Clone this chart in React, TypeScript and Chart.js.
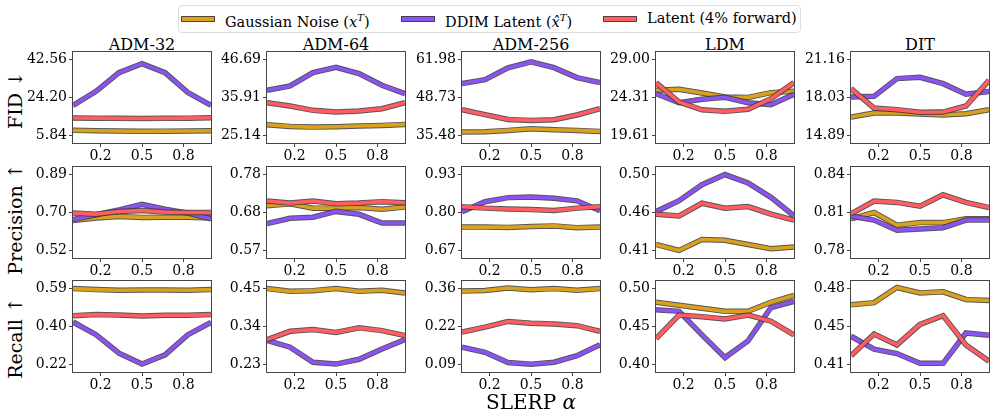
import React, { useEffect, useRef } from "react";
import { Chart, registerables } from "chart.js";
Chart.register(...registerables);

const FONT = "'DejaVu Serif', serif";

const alphas = [0, 0.167, 0.333, 0.5, 0.667, 0.833, 1];
const xTickValues = [0.2, 0.5, 0.8];
const models = ["ADM-32", "ADM-64", "ADM-256", "LDM", "DIT"];
const metricLabels = ["FID ↓", "Precision ↑", "Recall ↑"];

// FID
const fidNoise = [
  [8.3, 8.1, 8.0, 7.8, 7.9, 8.0, 8.1],
  [28.18, 27.7, 27.51, 27.61, 27.8, 27.99, 28.27],
  [36.67, 36.78, 37.23, 37.83, 37.48, 37.23, 36.88],
  [25.2, 25.32, 24.86, 24.37, 24.32, 24.91, 25.07],
  [16.41, 16.74, 16.74, 16.66, 16.58, 16.68, 17.02],
];
const fidDdim = [
  [20.4, 27.2, 36.2, 40.6, 36.2, 26.6, 20.4],
  [37.96, 39.19, 42.99, 44.51, 42.7, 39.38, 37.01],
  [53.58, 54.98, 59.07, 61.17, 59.17, 55.68, 53.93],
  [24.78, 23.66, 24.08, 24.32, 23.66, 23.41, 24.7],
  [18.07, 18.12, 19.59, 19.7, 19.17, 18.29, 18.53],
];
const fidLatent = [
  [14.3, 14.2, 14.1, 14.0, 14.1, 14.2, 14.4],
  [34.44, 33.5, 32.26, 31.79, 32.08, 32.74, 34.44],
  [44.47, 42.73, 41.08, 40.73, 40.97, 42.62, 44.83],
  [26.15, 23.75, 22.79, 22.59, 22.84, 24.16, 26.15],
  [18.76, 17.15, 17.02, 16.8, 16.82, 17.32, 19.45],
];
const fidTicks = [
  ["5.84", "24.20", "42.56"],
  ["25.14", "35.91", "46.69"],
  ["35.48", "48.73", "61.98"],
  ["19.61", "24.31", "29.00"],
  ["14.89", "18.03", "21.16"],
];

// Precision
const precNoise = [
  [0.666, 0.678, 0.686, 0.681, 0.682, 0.682, 0.678],
  [0.694, 0.699, 0.687, 0.687, 0.689, 0.684, 0.69],
  [0.75, 0.75, 0.749, 0.752, 0.754, 0.748, 0.75],
  [0.417, 0.41, 0.423, 0.422, 0.417, 0.412, 0.414],
  [0.805, 0.81, 0.8, 0.802, 0.802, 0.805, 0.805],
];
const precDdim = [
  [0.67, 0.694, 0.718, 0.745, 0.721, 0.702, 0.674],
  [0.644, 0.659, 0.662, 0.678, 0.67, 0.646, 0.646],
  [0.803, 0.837, 0.851, 0.853, 0.849, 0.84, 0.806],
  [0.456, 0.469, 0.488, 0.5, 0.49, 0.473, 0.451],
  [0.807, 0.804, 0.796, 0.797, 0.798, 0.804, 0.804],
];
const precLatent = [
  [0.702, 0.697, 0.71, 0.715, 0.707, 0.705, 0.705],
  [0.707, 0.701, 0.707, 0.699, 0.701, 0.705, 0.702],
  [0.82, 0.815, 0.812, 0.81, 0.807, 0.815, 0.82],
  [0.453, 0.451, 0.466, 0.46, 0.462, 0.453, 0.446],
  [0.809, 0.819, 0.818, 0.815, 0.824, 0.818, 0.814],
];
const precTicks = [
  ["0.52", "0.70", "0.89"],
  ["0.57", "0.68", "0.78"],
  ["0.67", "0.80", "0.93"],
  ["0.41", "0.46", "0.50"],
  ["0.78", "0.81", "0.84"],
];

// Recall
const recNoise = [
  [0.59, 0.585, 0.582, 0.583, 0.583, 0.582, 0.585],
  [0.45, 0.442, 0.444, 0.45, 0.442, 0.445, 0.437],
  [0.351, 0.353, 0.362, 0.356, 0.36, 0.354, 0.36],
  [0.482, 0.478, 0.474, 0.47, 0.47, 0.482, 0.491],
  [0.465, 0.467, 0.481, 0.476, 0.477, 0.47, 0.469],
];
const recDdim = [
  [0.427, 0.365, 0.275, 0.222, 0.267, 0.365, 0.425],
  [0.3, 0.28, 0.236, 0.231, 0.245, 0.275, 0.302],
  [0.151, 0.133, 0.097, 0.091, 0.098, 0.121, 0.16],
  [0.472, 0.47, 0.439, 0.409, 0.431, 0.475, 0.483],
  [0.436, 0.424, 0.42, 0.411, 0.411, 0.439, 0.437],
];
const recLatent = [
  [0.458, 0.463, 0.461, 0.456, 0.46, 0.46, 0.463],
  [0.302, 0.326, 0.331, 0.323, 0.336, 0.328, 0.314],
  [0.205, 0.223, 0.243, 0.237, 0.234, 0.228, 0.208],
  [0.434, 0.465, 0.463, 0.46, 0.465, 0.457, 0.439],
  [0.418, 0.438, 0.428, 0.447, 0.455, 0.428, 0.413],
];
const recTicks = [
  ["0.22", "0.40", "0.59"],
  ["0.23", "0.34", "0.45"],
  ["0.09", "0.22", "0.36"],
  ["0.40", "0.45", "0.50"],
  ["0.41", "0.45", "0.48"],
];

const rowsNoise = [fidNoise, precNoise, recNoise];
const rowsDdim = [fidDdim, precDdim, recDdim];
const rowsLatent = [fidLatent, precLatent, recLatent];
const rowsTicks = [fidTicks, precTicks, recTicks];

const COLORS = { noise: "#DBA11B", ddim: "#8B52F4", latent: "#FF5D62" };
const OUTLINE = "rgba(55,55,55,0.85)";

const COL_LEFTS = [73, 267, 462, 656, 851];
const ROW_TOPS = [52, 167, 281];
const PLOT_W = 138;
const PLOT_H = 91;
const PAD_L = 62;
const PAD_T = 14;
const PAD_R = 10;
const PAD_B = 26;

const framePlugin = {
  id: "frame",
  afterDatasetsDraw(chart: any) {
    const { ctx, chartArea: a } = chart;
    ctx.save();
    ctx.strokeStyle = "#444";
    ctx.lineWidth = 1;
    ctx.strokeRect(Math.round(a.left) - 0.5, Math.round(a.top) - 0.5, Math.round(a.right - a.left) + 1, Math.round(a.bottom - a.top) + 1);
    ctx.restore();
  },
};

function Panel({ row, col }: { row: number; col: number }) {
  const ref = useRef<HTMLCanvasElement>(null);
  useEffect(() => {
    const labels = rowsTicks[row][col];
    const lo = parseFloat(labels[0]);
    const hi = parseFloat(labels[2]);
    const span = hi - lo;
    const toPts = (vals: number[]) => alphas.map((a, i) => ({ x: a, y: vals[i] }));
    const series = [
      { vals: rowsNoise[row][col], color: COLORS.noise },
      { vals: rowsDdim[row][col], color: COLORS.ddim },
      { vals: rowsLatent[row][col], color: COLORS.latent },
    ];
    const datasets: any[] = [];
    series.forEach((s, k) => {
      datasets.push({
        data: toPts(s.vals),
        borderColor: OUTLINE,
        borderWidth: 5.5,
        pointRadius: 0,
        tension: 0,
        clip: 0,
        order: 10 - 2 * k,
      });
      datasets.push({
        data: toPts(s.vals),
        borderColor: s.color,
        borderWidth: 3.6,
        pointRadius: 0,
        tension: 0,
        clip: 0,
        order: 9 - 2 * k,
      });
    });
    const chart = new Chart(ref.current as HTMLCanvasElement, {
      type: "line",
      data: { datasets },
      plugins: [framePlugin],
      options: {
        responsive: false,
        maintainAspectRatio: false,
        animation: false,
        events: [],
        layout: { padding: { left: 0, top: PAD_T, right: PAD_R, bottom: 0 } },
        plugins: { legend: { display: false }, tooltip: { enabled: false } },
        scales: {
          x: {
            type: "linear",
            min: 0,
            max: 1,
            bounds: "data",
            afterBuildTicks: (ax: any) => {
              ax.ticks = xTickValues.map((v) => ({ value: v }));
            },
            afterFit: (ax: any) => {
              ax.height = PAD_B;
            },
            ticks: {
              autoSkip: false,
              maxRotation: 0,
              padding: 1,
              color: "#000",
              font: { family: FONT, size: 14 },
              callback: (v: any) => Number(v).toFixed(1),
            },
            grid: { drawOnChartArea: false, tickLength: 4, color: "#444" },
            border: { display: false },
          },
          y: {
            type: "linear",
            min: lo - 0.1 * span,
            max: hi + 0.1 * span,
            bounds: "data",
            afterBuildTicks: (ax: any) => {
              ax.ticks = [lo, (lo + hi) / 2, hi].map((v) => ({ value: v }));
            },
            afterFit: (ax: any) => {
              ax.width = PAD_L;
            },
            ticks: {
              autoSkip: false,
              padding: 2,
              color: "#000",
              font: { family: FONT, size: 14 },
              callback: (_v: any, i: number) => labels[i],
            },
            grid: { drawOnChartArea: false, tickLength: 4, color: "#444" },
            border: { display: false },
          },
        },
      } as any,
    });
    return () => chart.destroy();
  }, [row, col]);
  const w = PAD_L + PLOT_W + PAD_R;
  const h = PAD_T + PLOT_H + PAD_B;
  return (
    <canvas
      ref={ref}
      width={w}
      height={h}
      style={{ position: "absolute", left: COL_LEFTS[col] - PAD_L, top: ROW_TOPS[row] - PAD_T, width: w, height: h }}
    />
  );
}

function LegendLine({ left, color }: { left: number; color: string }) {
  return (
    <div
      style={{
        position: "absolute",
        left,
        top: 16,
        width: 32,
        height: 3.6,
        background: color,
        border: `1px solid ${OUTLINE}`,
        boxSizing: "content-box",
      }}
    />
  );
}

const legendText: React.CSSProperties = {
  position: "absolute",
  top: 11,
  fontFamily: FONT,
  fontSize: 14.5,
  lineHeight: "14px",
  whiteSpace: "nowrap",
  color: "#000",
};

export default function App() {
  const rowLabelCenters = [100, 219, 338];
  return (
    <div style={{ position: "absolute", left: 0, top: 0, width: 996, height: 419, background: "#fff", overflow: "hidden" }}>
      {/* legend */}
      <div
        style={{
          position: "absolute",
          left: 178,
          top: 5,
          width: 623,
          height: 28,
          border: "1px solid #ddd",
          borderRadius: 4,
          boxSizing: "border-box",
        }}
      />
      <LegendLine left={181} color={COLORS.noise} />
      <div style={{ ...legendText, left: 225 }}>
        Gaussian Noise (<i>x</i>
        <sup style={{ fontSize: 10, fontStyle: "italic", verticalAlign: 6 }}>T</sup>)
      </div>
      <LegendLine left={401} color={COLORS.ddim} />
      <div style={{ ...legendText, left: 445 }}>
        DDIM Latent (<i>x&#770;</i>
        <sup style={{ fontSize: 10, fontStyle: "italic", verticalAlign: 6 }}>T</sup>)
      </div>
      <LegendLine left={603} color={COLORS.latent} />
      <div style={{ ...legendText, left: 647 }}>Latent (4% forward)</div>

      {/* titles */}
      {models.map((m, c) => (
        <div
          key={m}
          style={{
            position: "absolute",
            left: COL_LEFTS[c] + PLOT_W / 2,
            top: 36.5,
            transform: "translateX(-50%)",
            fontFamily: FONT,
            fontSize: 16,
            lineHeight: "16px",
            whiteSpace: "nowrap",
          }}
        >
          {m}
        </div>
      ))}

      {/* row labels */}
      {metricLabels.map((t, r) => (
        <div
          key={t}
          style={{
            position: "absolute",
            left: 15,
            top: rowLabelCenters[r],
            transform: "translate(-50%, -50%) rotate(-90deg)",
            fontFamily: FONT,
            fontSize: 19,
            lineHeight: "20px",
            whiteSpace: "nowrap",
          }}
        >
          {t}
        </div>
      ))}

      {[0, 1, 2].map((r) => [0, 1, 2, 3, 4].map((c) => <Panel key={`${r}-${c}`} row={r} col={c} />))}

      {/* x label */}
      <div
        style={{
          position: "absolute",
          left: 531,
          top: 392,
          transform: "translateX(-50%)",
          fontFamily: FONT,
          fontSize: 20,
          lineHeight: "20px",
          whiteSpace: "nowrap",
        }}
      >
        SLERP <i>α</i>
      </div>
    </div>
  );
}
